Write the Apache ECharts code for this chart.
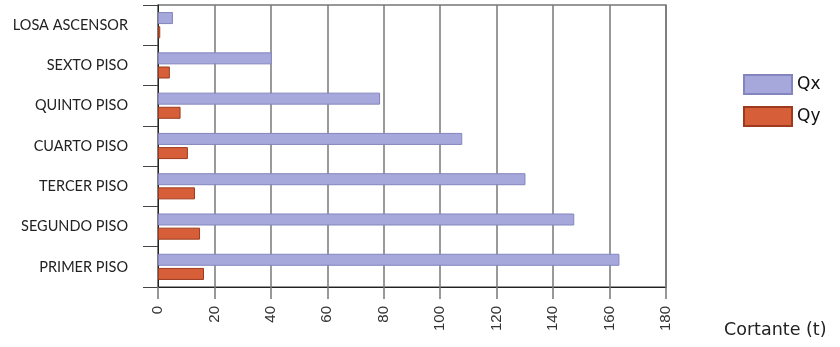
<!DOCTYPE html>
<html><head><meta charset="utf-8">
<script src="https://cdn.jsdelivr.net/npm/echarts@6/dist/echarts.min.js"></script>
<style>html,body{margin:0;padding:0;background:#fff}#c{width:840px;height:347px}</style>
</head><body><div id="c"></div>
<script>
const categories = ['LOSA ASCENSOR','SEXTO PISO','QUINTO PISO','CUARTO PISO','TERCER PISO','SEGUNDO PISO','PRIMER PISO'];
const qx = [5.3, 40.3, 78.7, 107.8, 130.2, 147.5, 163.5];
const qy = [0.8, 4.2, 8.0, 10.6, 13.1, 14.9, 16.3];
const xTicks = {min: 0, max: 180, interval: 20};
const xTitle = 'Cortante (t)';

const chart = echarts.init(document.getElementById('c'), null, {renderer: 'canvas'});
chart.setOption({
  animation: false,
  grid: {left: 158, right: 174, top: 5, bottom: 60, show: true, borderColor: '#777', borderWidth: 1.5},
  legend: {
    orient: 'vertical', left: 738, top: 69, itemWidth: 48, itemHeight: 19, itemGap: 11, icon: 'rect',
    textStyle: {fontFamily: 'DejaVu Sans', fontSize: 17, color: '#111'},
    data: ['Qx','Qy']
  },
  graphic: [{type: 'text', left: 724, top: 321, style: {text: xTitle, font: '17.5px "DejaVu Sans"', fill: '#222'}}],
  xAxis: {
    type: 'value', min: xTicks.min, max: xTicks.max, interval: xTicks.interval,
    axisLine: {show: true, lineStyle: {color: '#222', width: 1}},
    axisTick: {show: true, length: 12, lineStyle: {color: '#777', width: 1.5}},
    axisLabel: {rotate: 90, margin: 19, fontFamily: 'Liberation Sans', fontSize: 15, color: '#333'},
    splitLine: {show: true, lineStyle: {color: '#777', width: 1.5}}
  },
  yAxis: {
    type: 'category', data: categories, inverse: true,
    axisLine: {show: true, lineStyle: {color: '#222', width: 1}},
    axisTick: {show: true, length: 15, lineStyle: {color: '#444'}},
    axisLabel: {margin: 30, fontFamily: 'Lato', fontSize: 14.5, color: '#222'},
    splitLine: {show: false}
  },
  series: [
    {name: 'Qx', type: 'bar', data: qx, barWidth: 12, barGap: '18%', barCategoryGap: '35%',
     itemStyle: {color: '#A6A8DC', borderColor: '#8386BE', borderWidth: 1}},
    {name: 'Qy', type: 'bar', data: qy, barWidth: 12,
     itemStyle: {color: '#D65F3A', borderColor: '#9E3B1F', borderWidth: 1}}
  ]
});
</script></body></html>
